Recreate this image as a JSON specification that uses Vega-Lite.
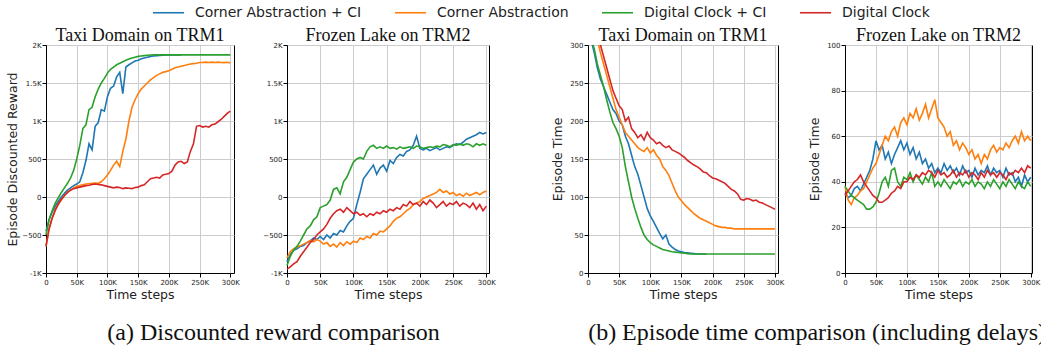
{
  "$schema": "https://vega.github.io/schema/vega-lite/v6.json",
  "padding": {"left": 6, "top": -4, "right": 0, "bottom": 0},
  "background": "white",
  "config": {
    "view": {"stroke": "black", "strokeWidth": 1},
    "axis": {"grid": true, "gridColor": "#cccccc", "gridWidth": 1, "domainColor": "black", "domainWidth": 1, "tickColor": "black", "tickSize": 4, "labelFont": "DejaVu Sans", "labelFontSize": 7, "labelColor": "#222222", "labelPadding": 1, "labelOverlap": false, "titleFont": "DejaVu Sans", "titleFontSize": 12.5, "titleFontWeight": "normal", "titleColor": "#222222"},
    "title": {"font": "Liberation Serif", "fontSize": 18, "fontWeight": "normal", "color": "#111111", "offset": -4, "baseline": "alphabetic"},
    "line": {"strokeWidth": 1.6, "clip": true}
  },
  "datasets": {
    "taxiR": [
      {"t":0,"s":"A","v":-450},{"t":5,"s":"A","v":-300},{"t":10,"s":"A","v":-200},{"t":15,"s":"A","v":-120},{"t":20,"s":"A","v":-60},{"t":25,"s":"A","v":0},{"t":30,"s":"A","v":50},{"t":35,"s":"A","v":90},{"t":40,"s":"A","v":120},{"t":45,"s":"A","v":150},{"t":50,"s":"A","v":170},{"t":55,"s":"A","v":200},{"t":60,"s":"A","v":320},{"t":65,"s":"A","v":480},{"t":70,"s":"A","v":700},{"t":75,"s":"A","v":620},{"t":80,"s":"A","v":930},{"t":85,"s":"A","v":980},{"t":90,"s":"A","v":1150},{"t":95,"s":"A","v":1130},{"t":100,"s":"A","v":1320},{"t":105,"s":"A","v":1430},{"t":110,"s":"A","v":1460},{"t":115,"s":"A","v":1580},{"t":120,"s":"A","v":1640},{"t":125,"s":"A","v":1360},{"t":130,"s":"A","v":1710},{"t":135,"s":"A","v":1740},{"t":140,"s":"A","v":1765},{"t":145,"s":"A","v":1790},{"t":150,"s":"A","v":1800},{"t":155,"s":"A","v":1820},{"t":160,"s":"A","v":1830},{"t":165,"s":"A","v":1840},{"t":170,"s":"A","v":1850},{"t":175,"s":"A","v":1855},{"t":180,"s":"A","v":1860},{"t":185,"s":"A","v":1862},{"t":190,"s":"A","v":1865},{"t":195,"s":"A","v":1868},{"t":200,"s":"A","v":1870},{"t":205,"s":"A","v":1870},{"t":210,"s":"A","v":1870},{"t":215,"s":"A","v":1872},{"t":220,"s":"A","v":1870},
      {"t":0,"s":"B","v":-650},{"t":5,"s":"B","v":-420},{"t":10,"s":"B","v":-280},{"t":15,"s":"B","v":-180},{"t":20,"s":"B","v":-100},{"t":25,"s":"B","v":-40},{"t":30,"s":"B","v":20},{"t":35,"s":"B","v":60},{"t":40,"s":"B","v":90},{"t":45,"s":"B","v":120},{"t":50,"s":"B","v":140},{"t":55,"s":"B","v":150},{"t":60,"s":"B","v":160},{"t":65,"s":"B","v":170},{"t":70,"s":"B","v":175},{"t":75,"s":"B","v":180},{"t":80,"s":"B","v":185},{"t":85,"s":"B","v":180},{"t":90,"s":"B","v":200},{"t":95,"s":"B","v":240},{"t":100,"s":"B","v":290},{"t":105,"s":"B","v":350},{"t":110,"s":"B","v":420},{"t":115,"s":"B","v":470},{"t":120,"s":"B","v":400},{"t":125,"s":"B","v":600},{"t":130,"s":"B","v":760},{"t":135,"s":"B","v":1000},{"t":140,"s":"B","v":1180},{"t":145,"s":"B","v":1280},{"t":150,"s":"B","v":1360},{"t":155,"s":"B","v":1420},{"t":160,"s":"B","v":1460},{"t":165,"s":"B","v":1500},{"t":170,"s":"B","v":1540},{"t":175,"s":"B","v":1570},{"t":180,"s":"B","v":1600},{"t":185,"s":"B","v":1620},{"t":190,"s":"B","v":1640},{"t":195,"s":"B","v":1650},{"t":200,"s":"B","v":1660},{"t":205,"s":"B","v":1680},{"t":210,"s":"B","v":1700},{"t":215,"s":"B","v":1710},{"t":220,"s":"B","v":1720},{"t":225,"s":"B","v":1730},{"t":230,"s":"B","v":1740},{"t":235,"s":"B","v":1750},{"t":240,"s":"B","v":1755},{"t":245,"s":"B","v":1760},{"t":250,"s":"B","v":1770},{"t":255,"s":"B","v":1770},{"t":260,"s":"B","v":1775},{"t":265,"s":"B","v":1770},{"t":270,"s":"B","v":1775},{"t":275,"s":"B","v":1770},{"t":280,"s":"B","v":1775},{"t":285,"s":"B","v":1770},{"t":290,"s":"B","v":1768},{"t":295,"s":"B","v":1772},{"t":300,"s":"B","v":1765},
      {"t":0,"s":"C","v":-500},{"t":5,"s":"C","v":-300},{"t":10,"s":"C","v":-180},{"t":15,"s":"C","v":-80},{"t":20,"s":"C","v":-10},{"t":25,"s":"C","v":60},{"t":30,"s":"C","v":120},{"t":35,"s":"C","v":180},{"t":40,"s":"C","v":250},{"t":45,"s":"C","v":350},{"t":50,"s":"C","v":500},{"t":55,"s":"C","v":680},{"t":60,"s":"C","v":900},{"t":65,"s":"C","v":950},{"t":70,"s":"C","v":1150},{"t":75,"s":"C","v":1180},{"t":80,"s":"C","v":1320},{"t":85,"s":"C","v":1420},{"t":90,"s":"C","v":1500},{"t":95,"s":"C","v":1560},{"t":100,"s":"C","v":1630},{"t":105,"s":"C","v":1680},{"t":110,"s":"C","v":1710},{"t":115,"s":"C","v":1740},{"t":120,"s":"C","v":1760},{"t":125,"s":"C","v":1780},{"t":130,"s":"C","v":1800},{"t":135,"s":"C","v":1815},{"t":140,"s":"C","v":1830},{"t":145,"s":"C","v":1840},{"t":150,"s":"C","v":1850},{"t":155,"s":"C","v":1855},{"t":160,"s":"C","v":1860},{"t":165,"s":"C","v":1865},{"t":170,"s":"C","v":1868},{"t":175,"s":"C","v":1870},{"t":200,"s":"C","v":1870},{"t":250,"s":"C","v":1870},{"t":300,"s":"C","v":1870},
      {"t":0,"s":"D","v":-650},{"t":5,"s":"D","v":-420},{"t":10,"s":"D","v":-280},{"t":15,"s":"D","v":-170},{"t":20,"s":"D","v":-90},{"t":25,"s":"D","v":-30},{"t":30,"s":"D","v":20},{"t":35,"s":"D","v":60},{"t":40,"s":"D","v":90},{"t":45,"s":"D","v":110},{"t":50,"s":"D","v":120},{"t":55,"s":"D","v":130},{"t":60,"s":"D","v":140},{"t":65,"s":"D","v":150},{"t":70,"s":"D","v":155},{"t":75,"s":"D","v":165},{"t":80,"s":"D","v":170},{"t":85,"s":"D","v":165},{"t":90,"s":"D","v":160},{"t":95,"s":"D","v":150},{"t":100,"s":"D","v":140},{"t":105,"s":"D","v":130},{"t":110,"s":"D","v":120},{"t":115,"s":"D","v":130},{"t":120,"s":"D","v":125},{"t":125,"s":"D","v":110},{"t":130,"s":"D","v":120},{"t":135,"s":"D","v":115},{"t":140,"s":"D","v":110},{"t":145,"s":"D","v":125},{"t":150,"s":"D","v":130},{"t":155,"s":"D","v":150},{"t":160,"s":"D","v":160},{"t":165,"s":"D","v":200},{"t":170,"s":"D","v":240},{"t":175,"s":"D","v":250},{"t":180,"s":"D","v":260},{"t":185,"s":"D","v":250},{"t":190,"s":"D","v":290},{"t":195,"s":"D","v":300},{"t":200,"s":"D","v":310},{"t":205,"s":"D","v":340},{"t":210,"s":"D","v":420},{"t":215,"s":"D","v":460},{"t":220,"s":"D","v":470},{"t":225,"s":"D","v":440},{"t":230,"s":"D","v":460},{"t":235,"s":"D","v":600},{"t":240,"s":"D","v":700},{"t":245,"s":"D","v":930},{"t":250,"s":"D","v":940},{"t":255,"s":"D","v":920},{"t":260,"s":"D","v":930},{"t":265,"s":"D","v":920},{"t":270,"s":"D","v":950},{"t":275,"s":"D","v":960},{"t":280,"s":"D","v":990},{"t":285,"s":"D","v":1020},{"t":290,"s":"D","v":1060},{"t":295,"s":"D","v":1100},{"t":300,"s":"D","v":1130}
    ],
    "lakeR": [
      {"t":0,"s":"A","v":-850},{"t":5,"s":"A","v":-760},{"t":10,"s":"A","v":-700},{"t":15,"s":"A","v":-680},{"t":20,"s":"A","v":-650},{"t":25,"s":"A","v":-640},{"t":30,"s":"A","v":-600},{"t":35,"s":"A","v":-580},{"t":40,"s":"A","v":-540},{"t":45,"s":"A","v":-560},{"t":50,"s":"A","v":-520},{"t":55,"s":"A","v":-560},{"t":60,"s":"A","v":-500},{"t":65,"s":"A","v":-540},{"t":70,"s":"A","v":-480},{"t":75,"s":"A","v":-500},{"t":80,"s":"A","v":-440},{"t":85,"s":"A","v":-460},{"t":90,"s":"A","v":-380},{"t":95,"s":"A","v":-320},{"t":100,"s":"A","v":-280},{"t":105,"s":"A","v":-100},{"t":110,"s":"A","v":60},{"t":115,"s":"A","v":240},{"t":120,"s":"A","v":300},{"t":125,"s":"A","v":360},{"t":130,"s":"A","v":420},{"t":135,"s":"A","v":300},{"t":140,"s":"A","v":380},{"t":145,"s":"A","v":420},{"t":150,"s":"A","v":340},{"t":155,"s":"A","v":480},{"t":160,"s":"A","v":440},{"t":165,"s":"A","v":520},{"t":170,"s":"A","v":560},{"t":175,"s":"A","v":540},{"t":180,"s":"A","v":600},{"t":185,"s":"A","v":620},{"t":190,"s":"A","v":680},{"t":195,"s":"A","v":800},{"t":200,"s":"A","v":640},{"t":205,"s":"A","v":620},{"t":210,"s":"A","v":640},{"t":215,"s":"A","v":610},{"t":220,"s":"A","v":630},{"t":225,"s":"A","v":650},{"t":230,"s":"A","v":620},{"t":235,"s":"A","v":640},{"t":240,"s":"A","v":660},{"t":245,"s":"A","v":650},{"t":250,"s":"A","v":680},{"t":255,"s":"A","v":700},{"t":260,"s":"A","v":690},{"t":265,"s":"A","v":720},{"t":270,"s":"A","v":760},{"t":275,"s":"A","v":780},{"t":280,"s":"A","v":800},{"t":285,"s":"A","v":820},{"t":290,"s":"A","v":850},{"t":295,"s":"A","v":830},{"t":300,"s":"A","v":850},
      {"t":0,"s":"B","v":-800},{"t":5,"s":"B","v":-720},{"t":10,"s":"B","v":-680},{"t":15,"s":"B","v":-660},{"t":20,"s":"B","v":-640},{"t":25,"s":"B","v":-620},{"t":30,"s":"B","v":-600},{"t":35,"s":"B","v":-570},{"t":40,"s":"B","v":-590},{"t":45,"s":"B","v":-560},{"t":50,"s":"B","v":-580},{"t":55,"s":"B","v":-620},{"t":60,"s":"B","v":-600},{"t":65,"s":"B","v":-650},{"t":70,"s":"B","v":-620},{"t":75,"s":"B","v":-660},{"t":80,"s":"B","v":-600},{"t":85,"s":"B","v":-640},{"t":90,"s":"B","v":-590},{"t":95,"s":"B","v":-620},{"t":100,"s":"B","v":-580},{"t":105,"s":"B","v":-600},{"t":110,"s":"B","v":-540},{"t":115,"s":"B","v":-560},{"t":120,"s":"B","v":-520},{"t":125,"s":"B","v":-540},{"t":130,"s":"B","v":-480},{"t":135,"s":"B","v":-500},{"t":140,"s":"B","v":-450},{"t":145,"s":"B","v":-460},{"t":150,"s":"B","v":-420},{"t":155,"s":"B","v":-380},{"t":160,"s":"B","v":-320},{"t":165,"s":"B","v":-280},{"t":170,"s":"B","v":-260},{"t":175,"s":"B","v":-220},{"t":180,"s":"B","v":-180},{"t":185,"s":"B","v":-150},{"t":190,"s":"B","v":-100},{"t":195,"s":"B","v":-80},{"t":200,"s":"B","v":-60},{"t":205,"s":"B","v":-20},{"t":210,"s":"B","v":0},{"t":215,"s":"B","v":20},{"t":220,"s":"B","v":40},{"t":225,"s":"B","v":60},{"t":230,"s":"B","v":100},{"t":235,"s":"B","v":60},{"t":240,"s":"B","v":80},{"t":245,"s":"B","v":40},{"t":250,"s":"B","v":60},{"t":255,"s":"B","v":20},{"t":260,"s":"B","v":40},{"t":265,"s":"B","v":10},{"t":270,"s":"B","v":50},{"t":275,"s":"B","v":20},{"t":280,"s":"B","v":40},{"t":285,"s":"B","v":60},{"t":290,"s":"B","v":30},{"t":295,"s":"B","v":60},{"t":300,"s":"B","v":80},
      {"t":0,"s":"C","v":-900},{"t":5,"s":"C","v":-780},{"t":10,"s":"C","v":-700},{"t":15,"s":"C","v":-650},{"t":20,"s":"C","v":-580},{"t":25,"s":"C","v":-500},{"t":30,"s":"C","v":-420},{"t":35,"s":"C","v":-380},{"t":40,"s":"C","v":-300},{"t":45,"s":"C","v":-260},{"t":50,"s":"C","v":-140},{"t":55,"s":"C","v":-120},{"t":60,"s":"C","v":-100},{"t":65,"s":"C","v":-40},{"t":70,"s":"C","v":100},{"t":75,"s":"C","v":120},{"t":80,"s":"C","v":40},{"t":85,"s":"C","v":200},{"t":90,"s":"C","v":260},{"t":95,"s":"C","v":360},{"t":100,"s":"C","v":460},{"t":105,"s":"C","v":500},{"t":110,"s":"C","v":520},{"t":115,"s":"C","v":500},{"t":120,"s":"C","v":600},{"t":125,"s":"C","v":660},{"t":130,"s":"C","v":680},{"t":135,"s":"C","v":640},{"t":140,"s":"C","v":660},{"t":145,"s":"C","v":640},{"t":150,"s":"C","v":670},{"t":155,"s":"C","v":640},{"t":160,"s":"C","v":650},{"t":165,"s":"C","v":630},{"t":170,"s":"C","v":660},{"t":175,"s":"C","v":640},{"t":180,"s":"C","v":650},{"t":185,"s":"C","v":660},{"t":190,"s":"C","v":640},{"t":195,"s":"C","v":670},{"t":200,"s":"C","v":660},{"t":205,"s":"C","v":640},{"t":210,"s":"C","v":650},{"t":215,"s":"C","v":660},{"t":220,"s":"C","v":650},{"t":225,"s":"C","v":670},{"t":230,"s":"C","v":660},{"t":235,"s":"C","v":690},{"t":240,"s":"C","v":680},{"t":245,"s":"C","v":660},{"t":250,"s":"C","v":690},{"t":255,"s":"C","v":680},{"t":260,"s":"C","v":700},{"t":265,"s":"C","v":680},{"t":270,"s":"C","v":700},{"t":275,"s":"C","v":690},{"t":280,"s":"C","v":660},{"t":285,"s":"C","v":700},{"t":290,"s":"C","v":680},{"t":295,"s":"C","v":700},{"t":300,"s":"C","v":680},
      {"t":0,"s":"D","v":-950},{"t":5,"s":"D","v":-920},{"t":10,"s":"D","v":-880},{"t":15,"s":"D","v":-850},{"t":20,"s":"D","v":-780},{"t":25,"s":"D","v":-720},{"t":30,"s":"D","v":-660},{"t":35,"s":"D","v":-600},{"t":40,"s":"D","v":-560},{"t":45,"s":"D","v":-500},{"t":50,"s":"D","v":-460},{"t":55,"s":"D","v":-420},{"t":60,"s":"D","v":-360},{"t":65,"s":"D","v":-280},{"t":70,"s":"D","v":-220},{"t":75,"s":"D","v":-180},{"t":80,"s":"D","v":-160},{"t":85,"s":"D","v":-200},{"t":90,"s":"D","v":-140},{"t":95,"s":"D","v":-180},{"t":100,"s":"D","v":-220},{"t":105,"s":"D","v":-200},{"t":110,"s":"D","v":-240},{"t":115,"s":"D","v":-220},{"t":120,"s":"D","v":-260},{"t":125,"s":"D","v":-220},{"t":130,"s":"D","v":-240},{"t":135,"s":"D","v":-200},{"t":140,"s":"D","v":-220},{"t":145,"s":"D","v":-180},{"t":150,"s":"D","v":-200},{"t":155,"s":"D","v":-160},{"t":160,"s":"D","v":-180},{"t":165,"s":"D","v":-140},{"t":170,"s":"D","v":-160},{"t":175,"s":"D","v":-100},{"t":180,"s":"D","v":-120},{"t":185,"s":"D","v":-60},{"t":190,"s":"D","v":-100},{"t":195,"s":"D","v":-80},{"t":200,"s":"D","v":-120},{"t":205,"s":"D","v":-60},{"t":210,"s":"D","v":-100},{"t":215,"s":"D","v":-40},{"t":220,"s":"D","v":-80},{"t":225,"s":"D","v":-140},{"t":230,"s":"D","v":-100},{"t":235,"s":"D","v":-60},{"t":240,"s":"D","v":-120},{"t":245,"s":"D","v":-80},{"t":250,"s":"D","v":-100},{"t":255,"s":"D","v":-60},{"t":260,"s":"D","v":-120},{"t":265,"s":"D","v":-80},{"t":270,"s":"D","v":-100},{"t":275,"s":"D","v":-140},{"t":280,"s":"D","v":-80},{"t":285,"s":"D","v":-160},{"t":290,"s":"D","v":-100},{"t":295,"s":"D","v":-180},{"t":300,"s":"D","v":-120}
    ],
    "taxiT": [
      {"t":7,"s":"A","v":300},{"t":10,"s":"A","v":290},{"t":15,"s":"A","v":270},{"t":20,"s":"A","v":255},{"t":25,"s":"A","v":245},{"t":30,"s":"A","v":235},{"t":35,"s":"A","v":225},{"t":40,"s":"A","v":215},{"t":45,"s":"A","v":210},{"t":50,"s":"A","v":200},{"t":55,"s":"A","v":195},{"t":60,"s":"A","v":180},{"t":65,"s":"A","v":170},{"t":70,"s":"A","v":155},{"t":75,"s":"A","v":140},{"t":80,"s":"A","v":130},{"t":85,"s":"A","v":115},{"t":90,"s":"A","v":100},{"t":95,"s":"A","v":85},{"t":100,"s":"A","v":75},{"t":105,"s":"A","v":68},{"t":110,"s":"A","v":60},{"t":115,"s":"A","v":52},{"t":120,"s":"A","v":45},{"t":125,"s":"A","v":50},{"t":130,"s":"A","v":38},{"t":135,"s":"A","v":34},{"t":140,"s":"A","v":31},{"t":145,"s":"A","v":29},{"t":150,"s":"A","v":28},{"t":155,"s":"A","v":27},{"t":160,"s":"A","v":26.5},{"t":165,"s":"A","v":26},{"t":170,"s":"A","v":25.5},{"t":175,"s":"A","v":25},{"t":180,"s":"A","v":25},{"t":185,"s":"A","v":25},{"t":190,"s":"A","v":25},
      {"t":17,"s":"B","v":300},{"t":20,"s":"B","v":290},{"t":25,"s":"B","v":275},{"t":30,"s":"B","v":260},{"t":35,"s":"B","v":245},{"t":40,"s":"B","v":230},{"t":45,"s":"B","v":215},{"t":50,"s":"B","v":205},{"t":55,"s":"B","v":195},{"t":60,"s":"B","v":185},{"t":65,"s":"B","v":180},{"t":70,"s":"B","v":175},{"t":75,"s":"B","v":170},{"t":80,"s":"B","v":165},{"t":85,"s":"B","v":162},{"t":90,"s":"B","v":160},{"t":95,"s":"B","v":165},{"t":100,"s":"B","v":158},{"t":105,"s":"B","v":162},{"t":110,"s":"B","v":155},{"t":115,"s":"B","v":150},{"t":120,"s":"B","v":140},{"t":125,"s":"B","v":135},{"t":130,"s":"B","v":128},{"t":135,"s":"B","v":118},{"t":140,"s":"B","v":108},{"t":145,"s":"B","v":100},{"t":150,"s":"B","v":95},{"t":155,"s":"B","v":90},{"t":160,"s":"B","v":86},{"t":165,"s":"B","v":82},{"t":170,"s":"B","v":78},{"t":175,"s":"B","v":75},{"t":180,"s":"B","v":72},{"t":185,"s":"B","v":70},{"t":190,"s":"B","v":68},{"t":195,"s":"B","v":66},{"t":200,"s":"B","v":64},{"t":205,"s":"B","v":62},{"t":210,"s":"B","v":61},{"t":215,"s":"B","v":60},{"t":220,"s":"B","v":60},{"t":225,"s":"B","v":59},{"t":230,"s":"B","v":59},{"t":235,"s":"B","v":58},{"t":240,"s":"B","v":58},{"t":250,"s":"B","v":58},{"t":260,"s":"B","v":58},{"t":270,"s":"B","v":58},{"t":280,"s":"B","v":58},{"t":290,"s":"B","v":58},{"t":300,"s":"B","v":58},
      {"t":8,"s":"C","v":300},{"t":10,"s":"C","v":295},{"t":15,"s":"C","v":275},{"t":20,"s":"C","v":260},{"t":25,"s":"C","v":245},{"t":30,"s":"C","v":228},{"t":35,"s":"C","v":212},{"t":40,"s":"C","v":198},{"t":45,"s":"C","v":190},{"t":50,"s":"C","v":180},{"t":55,"s":"C","v":165},{"t":60,"s":"C","v":140},{"t":65,"s":"C","v":120},{"t":70,"s":"C","v":100},{"t":75,"s":"C","v":85},{"t":80,"s":"C","v":72},{"t":85,"s":"C","v":60},{"t":90,"s":"C","v":50},{"t":95,"s":"C","v":44},{"t":100,"s":"C","v":40},{"t":105,"s":"C","v":37},{"t":110,"s":"C","v":35},{"t":115,"s":"C","v":33},{"t":120,"s":"C","v":31},{"t":125,"s":"C","v":30},{"t":130,"s":"C","v":29},{"t":135,"s":"C","v":28},{"t":140,"s":"C","v":27.5},{"t":145,"s":"C","v":27},{"t":150,"s":"C","v":26.5},{"t":155,"s":"C","v":26},{"t":160,"s":"C","v":25.5},{"t":165,"s":"C","v":25},{"t":200,"s":"C","v":25},{"t":250,"s":"C","v":25},{"t":300,"s":"C","v":25},
      {"t":20,"s":"D","v":300},{"t":25,"s":"D","v":285},{"t":30,"s":"D","v":270},{"t":35,"s":"D","v":255},{"t":40,"s":"D","v":240},{"t":45,"s":"D","v":230},{"t":50,"s":"D","v":220},{"t":55,"s":"D","v":215},{"t":60,"s":"D","v":200},{"t":65,"s":"D","v":205},{"t":70,"s":"D","v":190},{"t":75,"s":"D","v":185},{"t":80,"s":"D","v":178},{"t":85,"s":"D","v":182},{"t":90,"s":"D","v":175},{"t":95,"s":"D","v":185},{"t":100,"s":"D","v":178},{"t":105,"s":"D","v":175},{"t":110,"s":"D","v":170},{"t":115,"s":"D","v":172},{"t":120,"s":"D","v":168},{"t":125,"s":"D","v":165},{"t":130,"s":"D","v":167},{"t":135,"s":"D","v":162},{"t":140,"s":"D","v":160},{"t":145,"s":"D","v":158},{"t":150,"s":"D","v":155},{"t":155,"s":"D","v":152},{"t":160,"s":"D","v":148},{"t":165,"s":"D","v":145},{"t":170,"s":"D","v":142},{"t":175,"s":"D","v":140},{"t":180,"s":"D","v":137},{"t":185,"s":"D","v":133},{"t":190,"s":"D","v":132},{"t":195,"s":"D","v":128},{"t":200,"s":"D","v":125},{"t":205,"s":"D","v":124},{"t":210,"s":"D","v":122},{"t":215,"s":"D","v":120},{"t":220,"s":"D","v":118},{"t":225,"s":"D","v":114},{"t":230,"s":"D","v":110},{"t":235,"s":"D","v":108},{"t":240,"s":"D","v":104},{"t":245,"s":"D","v":97},{"t":250,"s":"D","v":96},{"t":255,"s":"D","v":98},{"t":260,"s":"D","v":97},{"t":265,"s":"D","v":95},{"t":270,"s":"D","v":96},{"t":275,"s":"D","v":93},{"t":280,"s":"D","v":92},{"t":285,"s":"D","v":90},{"t":290,"s":"D","v":88},{"t":295,"s":"D","v":86},{"t":300,"s":"D","v":84}
    ],
    "lakeT": [
      {"t":0,"s":"A","v":35},{"t":5,"s":"A","v":33},{"t":10,"s":"A","v":34},{"t":15,"s":"A","v":37},{"t":20,"s":"A","v":38},{"t":25,"s":"A","v":36},{"t":30,"s":"A","v":39},{"t":35,"s":"A","v":42},{"t":40,"s":"A","v":45},{"t":45,"s":"A","v":50},{"t":50,"s":"A","v":58},{"t":55,"s":"A","v":54},{"t":60,"s":"A","v":56},{"t":65,"s":"A","v":50},{"t":70,"s":"A","v":53},{"t":75,"s":"A","v":48},{"t":80,"s":"A","v":52},{"t":85,"s":"A","v":55},{"t":90,"s":"A","v":58},{"t":95,"s":"A","v":54},{"t":100,"s":"A","v":57},{"t":105,"s":"A","v":52},{"t":110,"s":"A","v":55},{"t":115,"s":"A","v":50},{"t":120,"s":"A","v":53},{"t":125,"s":"A","v":48},{"t":130,"s":"A","v":50},{"t":135,"s":"A","v":46},{"t":140,"s":"A","v":48},{"t":145,"s":"A","v":44},{"t":150,"s":"A","v":46},{"t":155,"s":"A","v":44},{"t":160,"s":"A","v":48},{"t":165,"s":"A","v":45},{"t":170,"s":"A","v":47},{"t":175,"s":"A","v":44},{"t":180,"s":"A","v":46},{"t":185,"s":"A","v":43},{"t":190,"s":"A","v":47},{"t":195,"s":"A","v":44},{"t":200,"s":"A","v":45},{"t":205,"s":"A","v":42},{"t":210,"s":"A","v":46},{"t":215,"s":"A","v":43},{"t":220,"s":"A","v":45},{"t":225,"s":"A","v":44},{"t":230,"s":"A","v":47},{"t":235,"s":"A","v":43},{"t":240,"s":"A","v":46},{"t":245,"s":"A","v":44},{"t":250,"s":"A","v":45},{"t":255,"s":"A","v":42},{"t":260,"s":"A","v":46},{"t":265,"s":"A","v":43},{"t":270,"s":"A","v":44},{"t":275,"s":"A","v":40},{"t":280,"s":"A","v":42},{"t":285,"s":"A","v":38},{"t":290,"s":"A","v":43},{"t":295,"s":"A","v":40},{"t":300,"s":"A","v":42},
      {"t":0,"s":"B","v":38},{"t":5,"s":"B","v":32},{"t":10,"s":"B","v":30},{"t":15,"s":"B","v":33},{"t":20,"s":"B","v":34},{"t":25,"s":"B","v":36},{"t":30,"s":"B","v":37},{"t":35,"s":"B","v":40},{"t":40,"s":"B","v":43},{"t":45,"s":"B","v":46},{"t":50,"s":"B","v":48},{"t":55,"s":"B","v":52},{"t":60,"s":"B","v":56},{"t":65,"s":"B","v":60},{"t":70,"s":"B","v":58},{"t":75,"s":"B","v":62},{"t":80,"s":"B","v":64},{"t":85,"s":"B","v":60},{"t":90,"s":"B","v":66},{"t":95,"s":"B","v":68},{"t":100,"s":"B","v":65},{"t":105,"s":"B","v":70},{"t":110,"s":"B","v":68},{"t":115,"s":"B","v":72},{"t":120,"s":"B","v":67},{"t":125,"s":"B","v":70},{"t":130,"s":"B","v":74},{"t":135,"s":"B","v":68},{"t":140,"s":"B","v":72},{"t":145,"s":"B","v":76},{"t":150,"s":"B","v":68},{"t":155,"s":"B","v":66},{"t":160,"s":"B","v":64},{"t":165,"s":"B","v":60},{"t":170,"s":"B","v":62},{"t":175,"s":"B","v":56},{"t":180,"s":"B","v":58},{"t":185,"s":"B","v":54},{"t":190,"s":"B","v":57},{"t":195,"s":"B","v":55},{"t":200,"s":"B","v":52},{"t":205,"s":"B","v":54},{"t":210,"s":"B","v":50},{"t":215,"s":"B","v":52},{"t":220,"s":"B","v":48},{"t":225,"s":"B","v":52},{"t":230,"s":"B","v":50},{"t":235,"s":"B","v":54},{"t":240,"s":"B","v":56},{"t":245,"s":"B","v":53},{"t":250,"s":"B","v":55},{"t":255,"s":"B","v":54},{"t":260,"s":"B","v":57},{"t":265,"s":"B","v":55},{"t":270,"s":"B","v":58},{"t":275,"s":"B","v":60},{"t":280,"s":"B","v":57},{"t":285,"s":"B","v":62},{"t":290,"s":"B","v":58},{"t":295,"s":"B","v":60},{"t":300,"s":"B","v":58},
      {"t":0,"s":"C","v":38},{"t":5,"s":"C","v":36},{"t":10,"s":"C","v":34},{"t":15,"s":"C","v":33},{"t":20,"s":"C","v":32},{"t":25,"s":"C","v":31},{"t":30,"s":"C","v":30},{"t":35,"s":"C","v":28},{"t":40,"s":"C","v":28},{"t":45,"s":"C","v":29},{"t":50,"s":"C","v":31},{"t":55,"s":"C","v":35},{"t":60,"s":"C","v":40},{"t":65,"s":"C","v":42},{"t":70,"s":"C","v":38},{"t":75,"s":"C","v":45},{"t":80,"s":"C","v":46},{"t":85,"s":"C","v":40},{"t":90,"s":"C","v":38},{"t":95,"s":"C","v":42},{"t":100,"s":"C","v":41},{"t":105,"s":"C","v":44},{"t":110,"s":"C","v":40},{"t":115,"s":"C","v":43},{"t":120,"s":"C","v":41},{"t":125,"s":"C","v":39},{"t":130,"s":"C","v":42},{"t":135,"s":"C","v":40},{"t":140,"s":"C","v":44},{"t":145,"s":"C","v":38},{"t":150,"s":"C","v":40},{"t":155,"s":"C","v":38},{"t":160,"s":"C","v":41},{"t":165,"s":"C","v":39},{"t":170,"s":"C","v":37},{"t":175,"s":"C","v":40},{"t":180,"s":"C","v":39},{"t":185,"s":"C","v":41},{"t":190,"s":"C","v":38},{"t":195,"s":"C","v":40},{"t":200,"s":"C","v":39},{"t":205,"s":"C","v":41},{"t":210,"s":"C","v":38},{"t":215,"s":"C","v":40},{"t":220,"s":"C","v":39},{"t":225,"s":"C","v":37},{"t":230,"s":"C","v":40},{"t":235,"s":"C","v":38},{"t":240,"s":"C","v":41},{"t":245,"s":"C","v":39},{"t":250,"s":"C","v":37},{"t":255,"s":"C","v":40},{"t":260,"s":"C","v":38},{"t":265,"s":"C","v":41},{"t":270,"s":"C","v":39},{"t":275,"s":"C","v":37},{"t":280,"s":"C","v":40},{"t":285,"s":"C","v":38},{"t":290,"s":"C","v":37},{"t":295,"s":"C","v":40},{"t":300,"s":"C","v":38},
      {"t":0,"s":"D","v":34},{"t":5,"s":"D","v":36},{"t":10,"s":"D","v":38},{"t":15,"s":"D","v":40},{"t":20,"s":"D","v":41},{"t":25,"s":"D","v":43},{"t":30,"s":"D","v":40},{"t":35,"s":"D","v":38},{"t":40,"s":"D","v":36},{"t":45,"s":"D","v":34},{"t":50,"s":"D","v":33},{"t":55,"s":"D","v":31},{"t":60,"s":"D","v":31},{"t":65,"s":"D","v":32},{"t":70,"s":"D","v":33},{"t":75,"s":"D","v":35},{"t":80,"s":"D","v":36},{"t":85,"s":"D","v":38},{"t":90,"s":"D","v":37},{"t":95,"s":"D","v":40},{"t":100,"s":"D","v":40},{"t":105,"s":"D","v":42},{"t":110,"s":"D","v":41},{"t":115,"s":"D","v":43},{"t":120,"s":"D","v":42},{"t":125,"s":"D","v":44},{"t":130,"s":"D","v":43},{"t":135,"s":"D","v":45},{"t":140,"s":"D","v":44},{"t":145,"s":"D","v":42},{"t":150,"s":"D","v":45},{"t":155,"s":"D","v":43},{"t":160,"s":"D","v":44},{"t":165,"s":"D","v":42},{"t":170,"s":"D","v":43},{"t":175,"s":"D","v":45},{"t":180,"s":"D","v":42},{"t":185,"s":"D","v":44},{"t":190,"s":"D","v":43},{"t":195,"s":"D","v":45},{"t":200,"s":"D","v":42},{"t":205,"s":"D","v":44},{"t":210,"s":"D","v":43},{"t":215,"s":"D","v":41},{"t":220,"s":"D","v":44},{"t":225,"s":"D","v":42},{"t":230,"s":"D","v":45},{"t":235,"s":"D","v":43},{"t":240,"s":"D","v":44},{"t":245,"s":"D","v":42},{"t":250,"s":"D","v":44},{"t":255,"s":"D","v":43},{"t":260,"s":"D","v":41},{"t":265,"s":"D","v":44},{"t":270,"s":"D","v":43},{"t":275,"s":"D","v":45},{"t":280,"s":"D","v":44},{"t":285,"s":"D","v":46},{"t":290,"s":"D","v":44},{"t":295,"s":"D","v":47},{"t":300,"s":"D","v":46}
    ]
  },
  "hconcat": [
    {
      "spacing": 22,
      "title": {"text": "(a) Discounted reward comparison", "orient": "bottom", "anchor": "start", "fontSize": 24, "offset": 20, "dx": 101, "baseline": "top"},
      "hconcat": [
        {
          "width": 188, "height": 228,
          "title": "Taxi Domain on TRM1",
          "data": {"name": "taxiR"},
          "mark": {"type": "line"},
          "encoding": {
            "x": {"field": "t", "type": "quantitative", "scale": {"domain": [0, 306], "nice": false}, "axis": {"title": "Time steps", "titlePadding": 3, "values": [0,50,100,150,200,250,300], "labelExpr": "datum.value == 0 ? '0' : datum.value + 'K'", "labelFlush": false}},
            "y": {"field": "v", "type": "quantitative", "scale": {"domain": [-1000, 2000], "nice": false}, "axis": {"title": "Episode Discounted Reward", "titlePadding": 2, "values": [-1000,-500,0,500,1000,1500,2000], "labelExpr": "abs(datum.value) >= 1000 ? (datum.value / 1000) + 'K' : datum.label", "labelFlush": false}},
            "color": {"field": "s", "type": "nominal", "scale": {"domain": ["A","B","C","D"], "range": ["#1f77b4","#ff7f0e","#2ca02c","#d62728"]},
              "legend": {"orient": "none", "legendX": 106, "legendY": -49, "direction": "horizontal", "columns": 4, "title": null, "symbolType": "stroke", "symbolSize": 961, "symbolStrokeWidth": 2, "labelFont": "DejaVu Sans", "labelFontSize": 14, "labelColor": "#222222", "labelLimit": 300, "columnPadding": 29, "labelOffset": 10, "labelExpr": "{'A': 'Corner Abstraction + CI', 'B': 'Corner Abstraction', 'C': 'Digital Clock + CI', 'D': 'Digital Clock'}[datum.label]"}}
          }
        },
        {
          "width": 202, "height": 228,
          "title": "Frozen Lake on TRM2",
          "data": {"name": "lakeR"},
          "mark": {"type": "line"},
          "encoding": {
            "x": {"field": "t", "type": "quantitative", "scale": {"domain": [0, 304], "nice": false}, "axis": {"title": "Time steps", "titlePadding": 3, "values": [0,50,100,150,200,250,300], "labelExpr": "datum.value == 0 ? '0' : datum.value + 'K'", "labelFlush": false}},
            "y": {"field": "v", "type": "quantitative", "scale": {"domain": [-1000, 2000], "nice": false}, "axis": {"title": null, "values": [-1000,-500,0,500,1000,1500,2000], "labelExpr": "abs(datum.value) >= 1000 ? (datum.value / 1000) + 'K' : datum.label", "labelFlush": false}},
            "color": {"field": "s", "type": "nominal", "scale": {"domain": ["A","B","C","D"], "range": ["#1f77b4","#ff7f0e","#2ca02c","#d62728"]},
              "legend": {"orient": "none", "legendX": 106, "legendY": -49, "direction": "horizontal", "columns": 4, "title": null, "symbolType": "stroke", "symbolSize": 961, "symbolStrokeWidth": 2, "labelFont": "DejaVu Sans", "labelFontSize": 14, "labelColor": "#222222", "labelLimit": 300, "columnPadding": 29, "labelOffset": 10, "labelExpr": "{'A': 'Corner Abstraction + CI', 'B': 'Corner Abstraction', 'C': 'Digital Clock + CI', 'D': 'Digital Clock'}[datum.label]"}}
          }
        }
      ]
    },
    {
      "spacing": 23,
      "title": {"text": "(b) Episode time comparison (including delays)", "orient": "bottom", "anchor": "start", "fontSize": 24, "offset": 20, "dx": 37, "baseline": "top"},
      "hconcat": [
        {
          "width": 190, "height": 228,
          "title": "Taxi Domain on TRM1",
          "data": {"name": "taxiT"},
          "mark": {"type": "line"},
          "encoding": {
            "x": {"field": "t", "type": "quantitative", "scale": {"domain": [0, 305], "nice": false}, "axis": {"title": "Time steps", "titlePadding": 3, "values": [0,50,100,150,200,250,300], "labelExpr": "datum.value == 0 ? '0' : datum.value + 'K'", "labelFlush": false}},
            "y": {"field": "v", "type": "quantitative", "scale": {"domain": [0, 300], "nice": false}, "axis": {"title": "Episode Time", "titlePadding": 5, "values": [0,50,100,150,200,250,300], "labelFlush": false}},
            "color": {"field": "s", "type": "nominal", "scale": {"domain": ["A","B","C","D"], "range": ["#1f77b4","#ff7f0e","#2ca02c","#d62728"]},
              "legend": {"orient": "none", "legendX": 106, "legendY": -49, "direction": "horizontal", "columns": 4, "title": null, "symbolType": "stroke", "symbolSize": 961, "symbolStrokeWidth": 2, "labelFont": "DejaVu Sans", "labelFontSize": 14, "labelColor": "#222222", "labelLimit": 300, "columnPadding": 29, "labelOffset": 10, "labelExpr": "{'A': 'Corner Abstraction + CI', 'B': 'Corner Abstraction', 'C': 'Digital Clock + CI', 'D': 'Digital Clock'}[datum.label]"}}
          }
        },
        {
          "width": 187, "height": 228,
          "title": "Frozen Lake on TRM2",
          "data": {"name": "lakeT"},
          "mark": {"type": "line"},
          "encoding": {
            "x": {"field": "t", "type": "quantitative", "scale": {"domain": [0, 302], "nice": false}, "axis": {"title": "Time steps", "titlePadding": 3, "values": [0,50,100,150,200,250,300], "labelExpr": "datum.value == 0 ? '0' : datum.value + 'K'", "labelFlush": false}},
            "y": {"field": "v", "type": "quantitative", "scale": {"domain": [0, 100], "nice": false}, "axis": {"title": "Episode Time", "titlePadding": 5, "values": [0,20,40,60,80,100], "labelFlush": false}},
            "color": {"field": "s", "type": "nominal", "scale": {"domain": ["A","B","C","D"], "range": ["#1f77b4","#ff7f0e","#2ca02c","#d62728"]},
              "legend": {"orient": "none", "legendX": 106, "legendY": -49, "direction": "horizontal", "columns": 4, "title": null, "symbolType": "stroke", "symbolSize": 961, "symbolStrokeWidth": 2, "labelFont": "DejaVu Sans", "labelFontSize": 14, "labelColor": "#222222", "labelLimit": 300, "columnPadding": 29, "labelOffset": 10, "labelExpr": "{'A': 'Corner Abstraction + CI', 'B': 'Corner Abstraction', 'C': 'Digital Clock + CI', 'D': 'Digital Clock'}[datum.label]"}}
          }
        }
      ]
    }
  ],
  "spacing": 55
}
